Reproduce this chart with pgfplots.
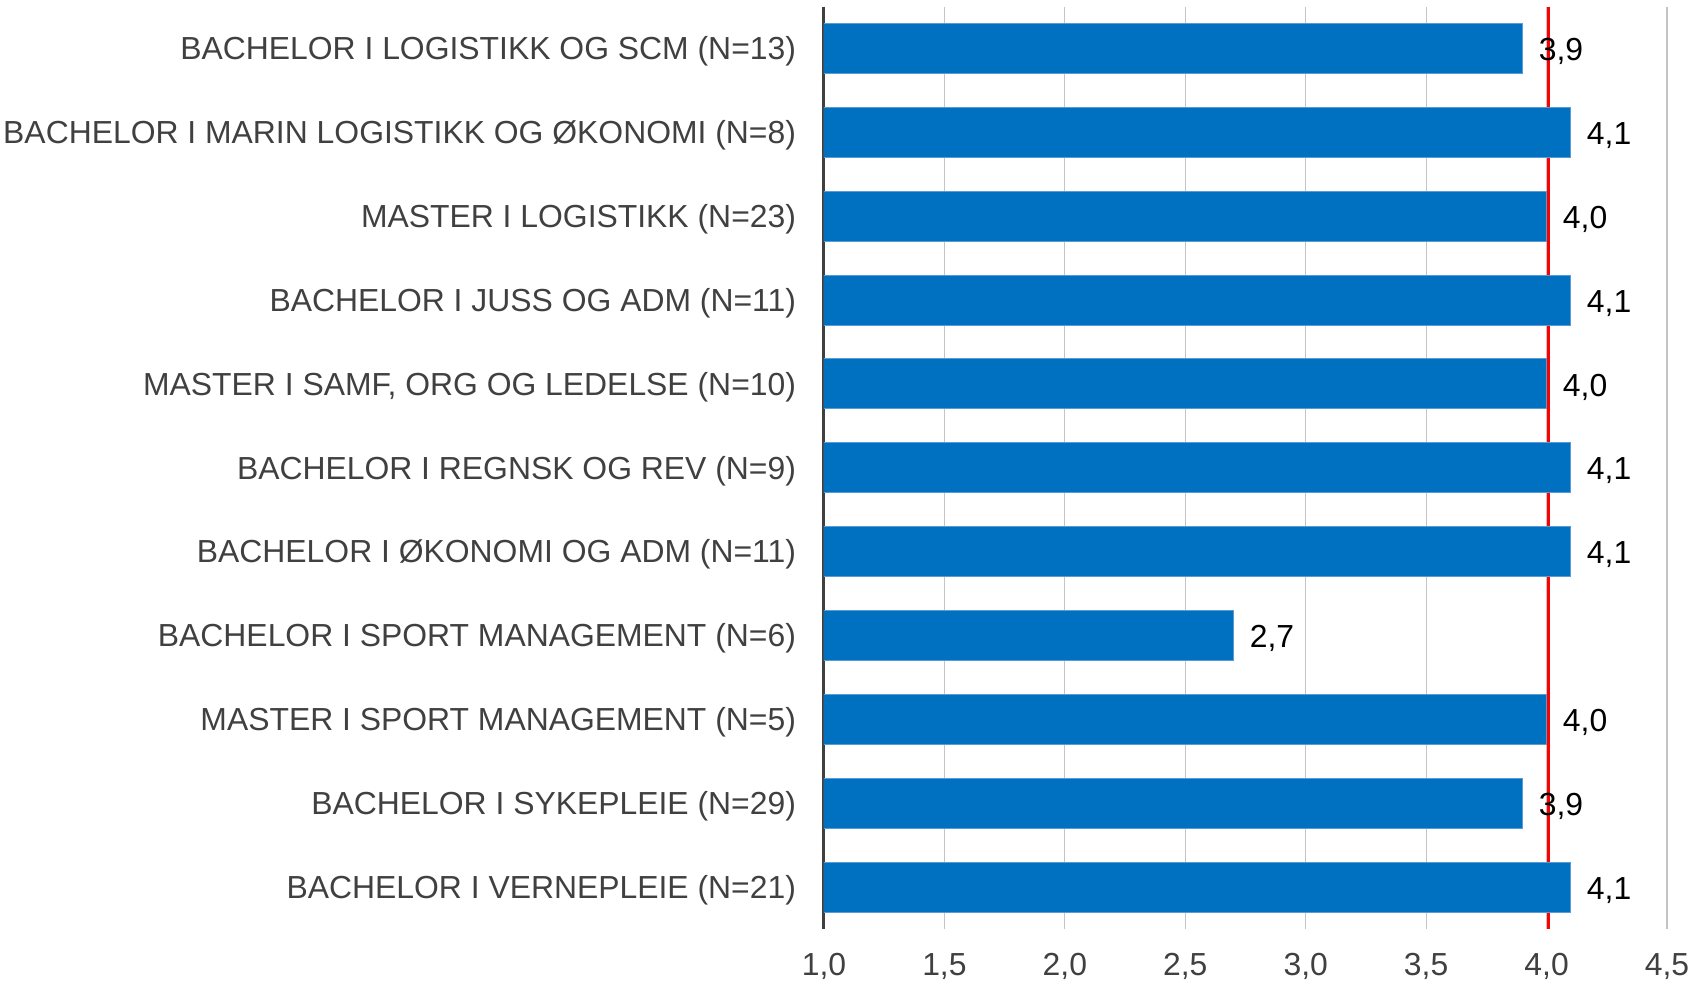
\documentclass[border=0pt]{standalone}
\usepackage{pgfplots}
\pgfplotsset{compat=1.18}
\usepackage{fontspec}
\setmainfont{Liberation Sans}
\definecolor{barblue}{HTML}{0070C0}
\definecolor{baredge}{HTML}{5B9BD5}
\definecolor{lblgray}{HTML}{404040}
\definecolor{gridgray}{HTML}{C4C4C4}
\begin{document}
\begin{tikzpicture}
\begin{axis}[
  scale only axis, width=421.5bp, height=461.2bp,
  xmin=1, xmax=4.5, ymin=-0.5, ymax=10.5, y dir=reverse,
  xtick={1,1.5,2,2.5,3,3.5,4,4.5},
  ytick={0,1,2,3,4,5,6,7,8,9,10},
  yticklabels={BACHELOR I LOGISTIKK OG SCM (N=13),
    BACHELOR I MARIN LOGISTIKK OG ØKONOMI (N=8),
    MASTER I LOGISTIKK (N=23),
    BACHELOR I JUSS OG ADM (N=11)\ ,
    {MASTER I SAMF, ORG OG LEDELSE (N=10)},
    BACHELOR I REGNSK OG REV (N=9),
    BACHELOR I ØKONOMI OG ADM (N=11),
    BACHELOR I SPORT MANAGEMENT (N=6),
    MASTER I SPORT MANAGEMENT (N=5),
    BACHELOR I SYKEPLEIE (N=29),
    BACHELOR I VERNEPLEIE (N=21)},
  axis y line*=left, axis x line*=bottom,
  x axis line style={draw=none},
  y axis line style={draw=lblgray, line width=1.5bp, -},
  major tick length=0pt,
  xmajorgrids, grid style={gridgray, line width=0.6bp},
  /pgf/number format/assume math mode=true,
  xticklabel={\pgfmathprintnumber[fixed,fixed zerofill,precision=1,use comma]{\tick}},
  xticklabel style={font=\fontsize{16}{19}\selectfont, text=lblgray, yshift=-8.8bp},
  yticklabel style={font=\fontsize{16}{19}\selectfont, text=lblgray, xshift=-10.5bp, yshift=-1.5bp},
  bar width=25bp,
  clip=true,
]
\addplot[red, line width=1.5bp, forget plot] coordinates {(4.01,-0.5) (4.01,10.5)};
\addplot[xbar, bar shift=0pt, fill=barblue, draw=baredge, line width=0.5bp,
  nodes near coords={\pgfmathprintnumber[fixed,fixed zerofill,precision=1,use comma,assume math mode=true]{\pgfplotspointmeta}},
  nodes near coords style={font=\fontsize{16}{19}\selectfont, text=black, anchor=west, xshift=4.6bp, yshift=-1.5bp}]
  coordinates {(3.9,0) (4.1,1) (4.0,2) (4.1,3) (4.0,4) (4.1,5) (4.1,6) (2.7,7) (4.0,8) (3.9,9) (4.1,10)};
\end{axis}
\pgfresetboundingbox
\useasboundingbox ([shift={(-412bp,-26.5bp)}]current axis.south west) rectangle ([shift={(12.5bp,3.3bp)}]current axis.north east);
\end{tikzpicture}
\end{document}
